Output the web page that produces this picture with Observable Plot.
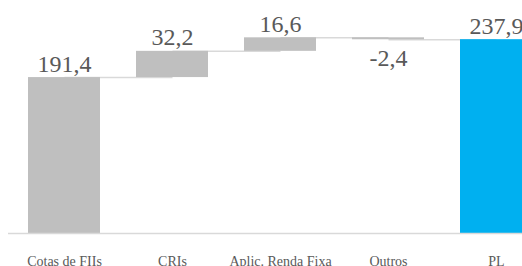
<!DOCTYPE html>
<html>
<head>
<meta charset="utf-8">
<script src="https://cdn.jsdelivr.net/npm/d3@7"></script>
<script src="https://cdn.jsdelivr.net/npm/@observablehq/plot@0.6"></script>
<style>
  html, body { margin: 0; padding: 0; background: #fff; overflow: hidden; }
  #chart svg { display: block; overflow: hidden; }
</style>
</head>
<body>
<div id="chart"></div>
<script>
const categories = ["Cotas de FIIs", "CRIs", "Aplic. Renda Fixa", "Outros", "PL"];
const values = [191.4, 32.2, 16.6, -2.4, 237.9];
const valueLabels = ["191,4", "32,2", "16,6", "-2,4", "237,9"];
const isTotal = [false, false, false, false, true];

// build waterfall rows
let running = 0;
const rows = categories.map((c, i) => {
  let start, end;
  if (i === 0 || isTotal[i]) { start = 0; end = values[i]; }
  else { start = running; end = running + values[i]; }
  running = end;
  return {cat: c, start, end, label: valueLabels[i], total: isTotal[i], neg: values[i] < 0,
          top: Math.max(start, end), bottom: Math.min(start, end)};
});
const links = rows.slice(0, -1).map((r, i) => ({from: r.cat, to: rows[i + 1].cat, level: r.end}));

const serif = "'Liberation Serif', 'DejaVu Serif', serif";

const chart = Plot.plot({
  width: 522,
  height: 266,
  marginTop: 0,
  marginBottom: 33,
  marginLeft: 8,
  marginRight: 0,
  style: {background: "#fff", color: "#595959", fontFamily: serif},
  x: {domain: categories, range: [8.9, 550.1], paddingInner: 0.335, paddingOuter: 0.1675, label: null},
  y: {domain: [0, 286], axis: null},
  marks: [
    Plot.link(links, {x1: "from", x2: "to", y1: "level", y2: "level", stroke: "#d9d9d9", strokeWidth: 1.5}),
    Plot.barY(rows, {x: "cat", y1: "start", y2: "end", fill: d => d.total ? "#00b0f0" : "#bfbfbf"}),
    Plot.ruleY([0], {stroke: "#d9d9d9", strokeWidth: 1.5}),
    Plot.text(rows.filter(d => !d.neg), {x: "cat", y: "top", text: "label", lineAnchor: "bottom", dy: -6,
      fontSize: 24, fontFamily: serif, fill: "#595959"}),
    Plot.text(rows.filter(d => d.neg), {x: "cat", y: "bottom", text: "label", lineAnchor: "top", dy: 9,
      fontSize: 24, fontFamily: serif, fill: "#595959"}),
    Plot.axisX({tickSize: 0, tickPadding: 23, fontSize: 14, fontFamily: serif, fill: "#595959", label: null})
  ]
});
document.getElementById("chart").appendChild(chart);
</script>
</body>
</html>
